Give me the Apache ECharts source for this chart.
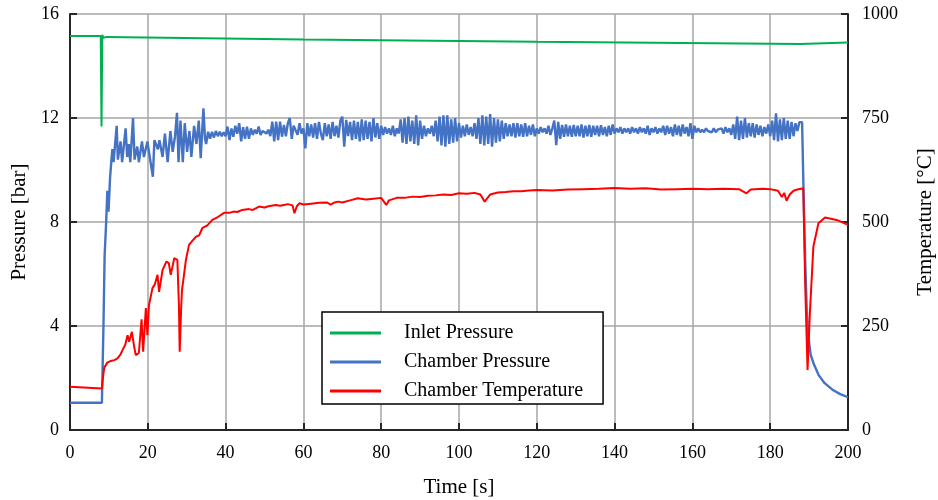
<!DOCTYPE html>
<html>
<head>
<meta charset="utf-8">
<script src="https://cdn.jsdelivr.net/npm/echarts@6/dist/echarts.min.js"></script>
<style>html,body{margin:0;padding:0;background:#fff}#c{width:938px;height:500px}</style>
</head>
<body>
<div id="c"></div>
<script>
// ---- data ----
var xTicks = [0, 20, 40, 60, 80, 100, 120, 140, 160, 180, 200];
var pressureTicks = [0, 4, 8, 12, 16];
var temperatureTicks = [0, 250, 500, 750, 1000];
var seriesNames = ['Inlet Pressure', 'Chamber Pressure', 'Chamber Temperature'];

// Inlet pressure [time s, bar]
var inletPressure = [[0,15.15],[7.9,15.15],[8.1,11.67],[8.3,15.2],[8.6,15.08],[8.9,15.15],[9.3,15.12],[60,15.02],[120,14.93],[187.8,14.85],[188.2,14.9],[200,14.9]];

// Chamber pressure, start-up [time s, bar]
var chamberPressureStart = [[0,1.05],[8.2,1.05],[8.6,4.0],[8.9,6.7],[9.3,8.0],[9.6,9.2],[9.9,8.4],[10.3,9.7],[10.6,10.3],[10.9,10.8],[11.2,10.3],[12.0,11.7],[12.3,10.4],[13.0,11.1],[13.4,10.3],[14.3,11.6],[14.7,10.5],[15.1,11.0],[15.5,10.3],[16.2,12.0],[16.6,10.4],[17.3,10.9],[17.7,10.3],[18.5,11.1],[19.0,10.5],[19.9,11.1],[20.6,10.4],[21.3,9.74],[21.7,11.15],[22.6,10.8],[23.0,11.15],[23.8,10.5],[24.4,11.4],[25.1,10.3],[25.8,11.5],[26.4,10.7],[27.0,11.3],[27.5,12.2],[27.9,10.3],[28.4,11.9],[29.0,10.3],[29.5,11.8],[30.1,10.7],[30.7,11.5],[31.2,10.5],[31.9,11.7],[32.5,11.0],[33.1,11.9],[33.6,10.45],[34.3,12.37],[34.7,11.2]];

// Chamber pressure, steady part, one reading every 0.5 s from 35 s to 188 s [bar]
var steadyStart = 35, steadyStep = 0.5;
var chamberPressureSteady = [
11.0,11.47,11.2,11.47,11.25,11.5,11.3,11.47,11.3,11.45,
11.3,11.67,11.15,11.6,11.28,11.7,11.4,11.8,11.1,11.65,
11.2,11.67,11.2,11.6,11.35,11.55,11.4,11.67,11.35,11.5,
11.47,11.4,11.55,11.3,11.86,11.1,11.86,11.15,11.86,11.28,
11.73,11.3,11.8,12.0,11.2,11.7,11.67,11.35,11.8,11.4,
11.6,10.83,11.8,11.3,11.75,11.25,11.8,11.2,11.85,11.4,
11.15,11.8,11.3,11.75,11.2,11.85,11.3,11.7,11.25,11.9,
12.05,10.9,11.93,11.3,11.85,11.15,11.9,11.2,11.85,11.1,
11.95,11.15,11.9,11.2,11.85,11.1,12.0,11.25,11.8,11.2,
11.7,11.35,11.65,11.4,11.6,11.35,11.7,11.3,11.6,11.4,
11.95,11.05,12.0,11.0,12.05,11.1,11.9,11.0,12.1,10.95,
11.9,11.2,11.7,11.3,11.6,11.4,11.7,11.3,11.9,11.1,
12.05,10.95,12.1,10.9,12.1,11.0,11.95,11.05,12.0,11.1,
11.8,11.25,11.7,11.3,11.75,11.35,11.65,11.3,11.8,11.2,
12.0,11.0,12.1,10.95,12.05,11.0,12.15,10.9,12.0,11.05,
11.95,11.1,11.9,11.2,11.8,11.3,11.75,11.3,11.8,11.25,
11.8,11.3,11.75,11.28,11.8,11.3,11.7,11.35,11.75,11.3,
11.6,11.4,11.65,11.45,11.6,11.4,11.7,11.35,11.6,11.9,
10.96,11.85,11.2,11.73,11.28,11.75,11.3,11.7,11.28,11.73,
11.3,11.7,11.3,11.75,11.25,11.7,11.3,11.73,11.28,11.7,
11.35,11.7,11.3,11.72,11.35,11.65,11.3,11.7,11.35,11.75,
11.4,11.6,11.45,11.65,11.4,11.6,11.45,11.6,11.4,11.65,
11.45,11.6,11.4,11.65,11.45,11.6,11.4,11.7,11.35,11.6,
11.45,11.65,11.4,11.6,11.45,11.7,11.35,11.7,11.4,11.65,
11.3,11.75,11.35,11.7,11.3,11.75,11.4,11.65,11.3,11.8,
11.2,11.7,11.45,11.6,11.45,11.55,11.45,11.6,11.5,11.55,
11.45,11.6,11.45,11.55,11.5,11.6,11.4,11.65,11.45,11.6,
11.35,11.75,11.2,12.05,11.15,11.9,11.2,12.0,11.25,11.8,
11.3,11.8,11.25,11.75,11.35,11.7,11.3,11.65,11.4,11.75,
11.3,11.9,11.15,12.18,11.1,11.95,11.15,12.0,11.2,11.9,
11.2,11.85,11.3,11.8,11.5,11.84,11.84
];

// Chamber pressure, shut-down [time s, bar]
var chamberPressureEnd = [[188.2,11.84],[188.6,9.0],[189.0,6.5],[189.4,4.6],[189.8,3.6],[190.4,2.9],[191.1,2.58],[192.5,2.1],[194,1.8],[196,1.55],[198,1.38],[200,1.26]];

// Chamber temperature [time s, °C]
var chamberTemperature = [[0,104],[8.2,100],[8.4,120],[8.8,150],[9.6,162],[10.5,166],[11.4,168],[12.2,172],[13.0,182],[13.5,192],[14.2,205],[14.8,228],[15.2,212],[15.6,216],[15.9,236],[16.5,200],[16.9,180],[17.7,185],[18.4,266],[18.8,188],[19.5,293],[19.9,228],[20.3,300],[21.2,341],[21.8,350],[22.5,373],[22.9,332],[23.8,385],[24.8,405],[25.4,401],[25.9,373],[26.8,413],[27.6,409],[28.0,300],[28.2,188],[28.6,300],[28.8,337],[29.8,409],[30.6,445],[31.5,455],[32.4,465],[33.2,468],[34.0,485],[35.3,492],[36.6,505],[38,512],[39.6,522],[41,522],[42,525],[43,524],[44.3,529],[46,531],[47,529],[48.6,537],[50,535],[51,538],[52.9,541],[54,539],[55,541],[56,543],[57.2,540],[57.7,521],[58.3,538],[59,545],[60,542],[62,544],[64,546],[66,547],[67,542],[68,547],[69,549],[70,547],[72,552],[74,557],[76,554],[78,556],[80,558],[81.3,541],[82,552],[84,558],[86,558],[88,561],[90,560],[92,563],[94,564],[96,566],[98,565],[100,569],[102,568],[104,570],[105.5,566],[106.6,549],[107.5,560],[108,566],[110,571],[112,572],[114,574],[116,574],[118,576],[120,577],[124,576],[128,578],[132,579],[136,580],[140,582],[144,580],[148,581],[152,578],[156,579],[160,580],[164,579],[168,580],[172,579],[173.9,569],[175,578],[178,580],[180,579],[182,575],[183,560],[183.6,570],[184.2,551],[185,566],[186,575],[187,578],[188.5,581],[189.0,350],[189.6,144],[190.2,281],[191.1,441],[192.4,497],[194.1,511],[197.1,505],[200,493]];

// ---- build series data ----
var chamberPressure = chamberPressureStart.slice();
for (var i = 0; i < chamberPressureSteady.length; i++) {
  chamberPressure.push([steadyStart + i * steadyStep, chamberPressureSteady[i]]);
}
chamberPressure = chamberPressure.concat(chamberPressureEnd);

var FONT = '"Liberation Serif", "DejaVu Serif", serif';
var chart = echarts.init(document.getElementById('c'), null, {renderer: 'canvas'});
var axisLineStyle = {color: '#262626', width: 2};
chart.setOption({
  animation: false,
  backgroundColor: '#ffffff',
  grid: {left: 70, right: 90, top: 14, bottom: 70, containLabel: false, outerBoundsMode: 'none'},
  legend: {
    orient: 'vertical',
    left: 322, top: 312,
    data: seriesNames,
    icon: 'rect',
    itemWidth: 51, itemHeight: 3,
    itemGap: 9,
    padding: [11, 20, 3, 8],
    backgroundColor: '#ffffff',
    borderColor: '#000000', borderWidth: 1.5,
    textStyle: {fontFamily: FONT, fontSize: 20, color: '#000', padding: [0, 0, 0, 18]}
  },
  xAxis: {
    type: 'value', min: xTicks[0], max: xTicks[xTicks.length - 1], interval: 20,
    name: 'Time [s]', nameLocation: 'middle', nameGap: 47,
    nameTextStyle: {fontFamily: FONT, fontSize: 21, color: '#000'},
    axisLine: {show: true, onZero: false, lineStyle: axisLineStyle},
    axisTick: {show: true, inside: true, length: 7, lineStyle: axisLineStyle},
    axisLabel: {fontFamily: FONT, fontSize: 18, color: '#000', margin: 14},
    splitLine: {show: true, lineStyle: {color: '#a6a6a6', width: 1.5}}
  },
  yAxis: [{
    type: 'value', min: pressureTicks[0], max: pressureTicks[pressureTicks.length - 1], interval: 4,
    position: 'left',
    name: 'Pressure [bar]', nameLocation: 'middle', nameGap: 35, nameRotate: 90,
    nameTextStyle: {fontFamily: FONT, fontSize: 21, color: '#000'},
    axisLine: {show: true, lineStyle: axisLineStyle},
    axisTick: {show: true, inside: true, length: 7, lineStyle: axisLineStyle},
    axisLabel: {fontFamily: FONT, fontSize: 18, color: '#000', margin: 11},
    splitLine: {show: true, lineStyle: {color: '#a6a6a6', width: 1.5}}
  }, {
    type: 'value', min: temperatureTicks[0], max: temperatureTicks[temperatureTicks.length - 1], interval: 250,
    position: 'right',
    name: 'Temperature [°C]', nameLocation: 'middle', nameGap: 67, nameRotate: 90,
    nameTextStyle: {fontFamily: FONT, fontSize: 21, color: '#000'},
    axisLine: {show: true, lineStyle: axisLineStyle},
    axisTick: {show: true, inside: true, length: 7, lineStyle: axisLineStyle},
    axisLabel: {fontFamily: FONT, fontSize: 18, color: '#000', margin: 14,
      formatter: function (v) { return String(v); }},
    splitLine: {show: false}
  }],
  series: [{
    name: seriesNames[0], type: 'line', yAxisIndex: 0, showSymbol: false, symbol: 'none',
    data: inletPressure, lineStyle: {color: '#00b050', width: 2}, itemStyle: {color: '#00b050'}
  }, {
    name: seriesNames[1], type: 'line', yAxisIndex: 0, showSymbol: false, symbol: 'none',
    data: chamberPressure, lineStyle: {color: '#4472c4', width: 2.4}, itemStyle: {color: '#4472c4'}
  }, {
    name: seriesNames[2], type: 'line', yAxisIndex: 1, showSymbol: false, symbol: 'none',
    data: chamberTemperature, lineStyle: {color: '#ff0000', width: 2}, itemStyle: {color: '#ff0000'}
  }]
});
</script>
</body>
</html>
